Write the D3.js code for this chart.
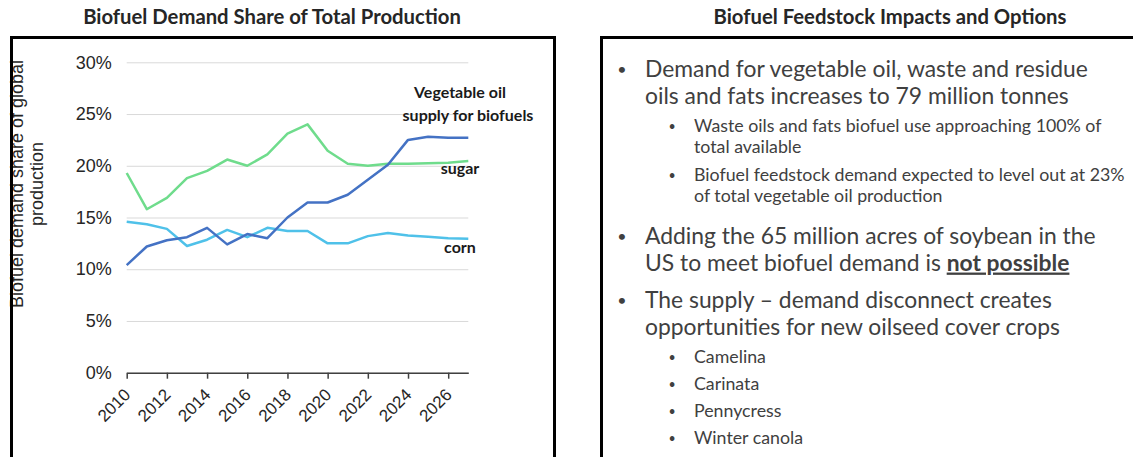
<!DOCTYPE html>
<meta charset="utf-8">
<style>
body { margin: 0; background: #fff; }
svg { display: block; }
text { font-family: Lato, "Open Sans", sans-serif; }
.axis-lbl text, .ylab { font-family: "Liberation Sans", Arial, sans-serif; fill: #262626; }
.grid line { stroke: #d9d9d9; stroke-width: 1; }
.grid .domain { display: none; }
.xaxis .domain, .xaxis line { stroke: #404040; stroke-width: 1.5; }
.series { fill: none; stroke-width: 2.5; stroke-linejoin: round; }
.frame { fill: none; stroke: #000; stroke-width: 3; }
.title { font-weight: bold; fill: #262626; }
.note { font-weight: bold; fill: #1a1a1a; font-size: 16px; }
.bul { fill: #404040; }
</style>
<svg width="1133" height="457"></svg>
<script src="https://cdn.jsdelivr.net/npm/d3@7"></script>
<script>
var years  = [2010, 2011, 2012, 2013, 2014, 2015, 2016, 2017, 2018, 2019, 2020, 2021, 2022, 2023, 2024, 2025, 2026, 2027];
var vegOil = [10.4, 12.2, 12.8, 13.1, 14.0, 12.4, 13.4, 13.0, 15.0, 16.45, 16.45, 17.2, 18.65, 20.1, 22.5, 22.8, 22.7, 22.7];
var sugar  = [19.3, 15.8, 16.9, 18.8, 19.5, 20.6, 20.0, 21.1, 23.1, 24.0, 21.45, 20.2, 20.0, 20.2, 20.2, 20.25, 20.3, 20.45];
var corn   = [14.6, 14.35, 13.9, 12.25, 12.85, 13.8, 13.1, 14.0, 13.7, 13.7, 12.5, 12.5, 13.2, 13.5, 13.25, 13.15, 13.0, 12.95];
var yTicks = [0, 5, 10, 15, 20, 25, 30];
var xTicks = [2010, 2012, 2014, 2016, 2018, 2020, 2022, 2024, 2026];

var seriesNames  = ["Vegetable oil\nsupply for biofuels", "sugar", "corn"];
var seriesColors = ["#4472c4", "#6fdc8c", "#4fc1e9"];

var leftTitle  = "Biofuel Demand Share of Total Production";
var rightTitle = "Biofuel Feedstock Impacts and Options";
var yLabel     = ["Biofuel demand share of global", "production"];

// bullets: level 1 = big, level 2 = sub; "*...*" marks bold underlined text
var bullets = [
  {level: 1, lines: ["Demand for vegetable oil, waste and residue", "oils and fats increases to 79 million tonnes"]},
  {level: 2, lines: ["Waste oils and fats biofuel use approaching 100% of", "total available"]},
  {level: 2, lines: ["Biofuel feedstock demand expected to level out at 23%", "of total vegetable oil production"]},
  {level: 1, lines: ["Adding the 65 million acres of soybean in the", "US to meet biofuel demand is *not possible*"]},
  {level: 1, lines: ["The supply \u2013 demand disconnect creates", "opportunities for new oilseed cover crops"]},
  {level: 2, lines: ["Camelina"]},
  {level: 2, lines: ["Carinata"]},
  {level: 2, lines: ["Pennycress"]},
  {level: 2, lines: ["Winter canola"]}
];
var bulletTops = [69, 126, 175, 236, 300, 357, 384, 411, 438];

var svg = d3.select("svg");

function fit(str, weight, target) {
  var t = svg.append("text").style("font-size", "100px").style("font-weight", weight).text(str);
  var w = t.node().getComputedTextLength();
  t.remove();
  return 100 * target / w;
}

var x = d3.scaleLinear().domain([2010, 2027]).range([126.7, 468.3]);
var y = d3.scaleLinear().domain([0, 30]).range([372.7, 62.3]);

// ---- left panel ----
var titleSize = fit(leftTitle, "bold", 378);
svg.append("text").attr("class", "title")
    .attr("x", 272).attr("y", 24)
    .attr("text-anchor", "middle")
    .style("font-size", titleSize + "px")
    .text(leftTitle);

var ylab = svg.append("text").attr("class", "ylab")
    .attr("transform", "rotate(-90)")
    .attr("text-anchor", "middle")
    .style("font-size", "18px");
yLabel.forEach(function(s, i) {
  ylab.append("tspan").attr("x", -184).attr("y", 23 + i * 20).text(s);
});

svg.append("g")
    .attr("class", "grid axis-lbl")
    .attr("transform", "translate(" + x.range()[0] + ",0)")
    .call(d3.axisLeft(y).tickValues(yTicks)
      .tickFormat(function(d) { return d + "%"; })
      .tickSize(-(x.range()[1] - x.range()[0]))
      .tickPadding(15))
    .call(function(g) { g.selectAll("text").style("font-size", "18px").style("font-family", null); });

var xg = svg.append("g")
    .attr("class", "xaxis axis-lbl")
    .attr("transform", "translate(0," + y(0) + ")")
    .call(d3.axisBottom(x).tickValues(xTicks).tickFormat(d3.format("d")).tickSize(6).tickSizeOuter(0));
xg.selectAll("text")
    .style("font-size", "17px").style("font-family", null)
    .attr("text-anchor", "end")
    .attr("dy", "0.35em")
    .attr("x", 0).attr("y", 0)
    .attr("transform", "translate(0,19) rotate(-45)");

var series = [vegOil, sugar, corn];
var line = d3.line().x(function(d, i) { return x(years[i]); }).y(function(d) { return y(d); });
// draw corn first, then sugar, then veg oil on top
[2, 1, 0].forEach(function(k) {
  svg.append("path").attr("class", "series")
      .datum(series[k])
      .attr("stroke", seriesColors[k])
      .attr("d", line);
});

var notePos = [[463, 98], [463, 174], [463, 253]];
seriesNames.forEach(function(s, k) {
  var t = svg.append("text").attr("class", "note")
      .attr("text-anchor", "middle")
      .attr("x", notePos[k][0]).attr("y", notePos[k][1]);
  s.split("\n").forEach(function(part, j) {
    t.append("tspan").attr("x", notePos[k][0] + (j ? 5 : -3)).attr("dy", j ? 23 : 0).text(part);
  });
});

svg.append("rect").attr("class", "frame")
    .attr("x", 11.5).attr("y", 37.5).attr("width", 543).attr("height", 500);

// ---- right panel ----
svg.append("text").attr("class", "title")
    .attr("x", 890).attr("y", 24)
    .attr("text-anchor", "middle")
    .style("font-size", titleSize + "px")
    .text(rightTitle);

var bigSize = fit(bullets[0].lines[0], "normal", 443);
var subSize = fit(bullets[1].lines[0], "normal", 408);

bullets.forEach(function(b, i) {
  var big = b.level === 1;
  var size = big ? bigSize : subSize;
  var lh = big ? 27 : 21;
  var tx = big ? 645 : 694;
  var bx = big ? 622 : 672;
  var top = bulletTops[i];
  svg.append("text").attr("class", "bul")
      .attr("x", bx).attr("y", top + size * 0.27)
      .attr("text-anchor", "middle")
      .style("font-size", (size * 0.7) + "px")
      .text("\u2022");
  b.lines.forEach(function(s, j) {
    var t = svg.append("text").attr("class", "bul")
        .attr("x", tx).attr("y", top + j * lh + size * 0.33)
        .style("font-size", size + "px");
    s.split("*").forEach(function(part, p) {
      if (!part) return;
      var ts = t.append("tspan").text(part);
      if (p % 2 === 1) ts.style("font-weight", "bold").style("text-decoration", "underline");
    });
  });
});

svg.append("rect").attr("class", "frame")
    .attr("x", 601.5).attr("y", 37.5).attr("width", 600).attr("height", 500);
</script>
